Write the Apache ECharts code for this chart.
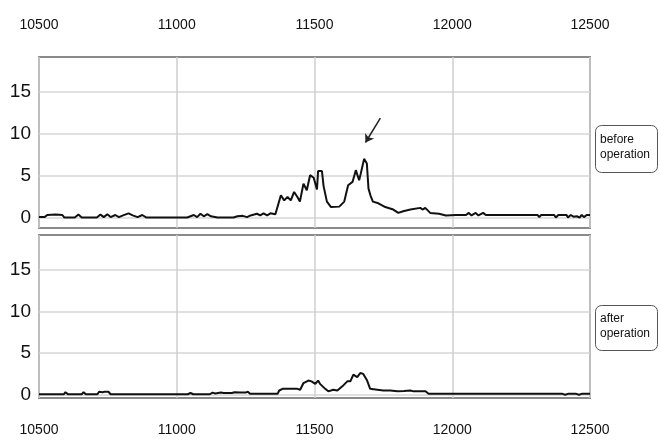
<!DOCTYPE html>
<html>
<head>
<meta charset="utf-8">
<script src="https://cdn.jsdelivr.net/npm/echarts@6/dist/echarts.min.js"></script>
<style>html,body{margin:0;padding:0;background:#fff;}#c{width:660px;height:445px;}</style>
</head>
<body>
<div id="c"></div>
<script>
var xTicks = [10500, 11000, 11500, 12000, 12500];
var yTicks = [0, 5, 10, 15];
var panelLabels = ['before\noperation', 'after\noperation'];

var beforeX = [10500,10520,10530,10560,10585,10592,10630,10643,10655,10710,10723,10735,10748,10760,10777,10790,10805,10825,10840,10858,10875,10890,11038,11050,11062,11074,11086,11098,11111,11124,11148,11206,11220,11240,11255,11268,11291,11303,11315,11328,11340,11358,11365,11378,11390,11402,11414,11426,11438,11447,11460,11472,11484,11491,11497,11509,11513,11527,11533,11545,11560,11590,11608,11622,11638,11650,11662,11668,11680,11690,11696,11703,11712,11732,11757,11786,11804,11822,11848,11884,11892,11902,11920,11952,11977,12013,12050,12060,12070,12085,12095,12112,12122,12310,12316,12322,12370,12376,12385,12415,12420,12430,12440,12452,12462,12470,12478,12488,12500];
var beforeY = [0.1,0.1,0.35,0.4,0.35,0.05,0.05,0.4,0.05,0.05,0.4,0.1,0.45,0.1,0.35,0.1,0.3,0.55,0.3,0.1,0.35,0.05,0.05,0.2,0.35,0.1,0.5,0.2,0.45,0.2,0.05,0.05,0.2,0.25,0.1,0.3,0.5,0.3,0.55,0.3,0.55,0.45,0.5,2.7,2.1,2.5,2.1,3.1,2.5,1.95,4.1,3.3,5.1,5.2,4.8,3.4,5.6,5.6,3.8,1.95,1.3,1.35,1.95,3.9,4.3,5.7,4.5,5.3,7.05,6.5,3.5,2.7,1.95,1.75,1.3,1.0,0.6,0.8,1.0,1.2,1.0,1.2,0.6,0.5,0.3,0.35,0.35,0.6,0.3,0.6,0.3,0.6,0.35,0.35,0.1,0.35,0.35,0.05,0.35,0.35,0.05,0.35,0.15,0.2,0.05,0.35,0.1,0.35,0.35];

var afterX = [10500,10590,10596,10605,10655,10662,10670,10712,10718,10730,10738,10745,10752,10760,10850,10856,10862,11040,11050,11060,11120,11130,11140,11160,11170,11200,11210,11230,11250,11258,11266,11366,11372,11378,11384,11438,11448,11460,11478,11489,11503,11513,11520,11539,11550,11568,11583,11601,11619,11630,11641,11655,11666,11677,11691,11702,11728,11750,11775,11780,11801,11825,11848,11860,11903,11914,12400,12410,12420,12450,12460,12470,12500];
var afterY = [0.05,0.05,0.3,0.05,0.05,0.3,0.05,0.05,0.35,0.3,0.35,0.15,0.35,0.05,0.05,0.2,0.05,0.05,0.2,0.05,0.05,0.25,0.15,0.25,0.2,0.2,0.3,0.25,0.25,0.35,0.1,0.1,0.5,0.4,0.7,0.7,0.6,1.4,1.7,1.6,1.3,1.7,1.3,0.7,0.4,0.6,0.5,1.0,1.6,1.6,2.4,2.1,2.6,2.5,1.7,0.7,0.6,0.5,0.5,0.35,0.4,0.45,0.5,0.4,0.4,0.1,0.1,0.0,0.1,0.1,0.0,0.1,0.1];

var arrowFrom = [11739, 11.9];
var arrowTo = [11685, 9.0];

function pairs(xs, ys) { return xs.map(function (x, i) { return [x, ys[i]]; }); }

var FONT = "'Liberation Sans', Arial, sans-serif";

function xAxis(idx, pos) {
  return {
    type: 'value', gridIndex: idx, position: pos,
    min: xTicks[0], max: xTicks[xTicks.length - 1], interval: 500,
    axisLine: { show: false }, axisTick: { show: false },
    axisLabel: { fontFamily: FONT, fontSize: 14, color: '#111', margin: 25,
      formatter: function (v) { return String(v); } },
    splitLine: { show: true, lineStyle: { color: '#cfcfcf', width: 1.5 } }
  };
}
function yAxis(idx, min, max) {
  return {
    type: 'value', gridIndex: idx, min: min, max: max,
    axisLine: { show: false },
    axisTick: { show: false, customValues: yTicks },
    axisLabel: { customValues: yTicks, fontFamily: FONT, fontSize: 19, color: '#111', margin: 8 },
    splitLine: { show: true, lineStyle: { color: '#d6d6d6', width: 1.5 } }
  };
}

var chart = echarts.init(document.getElementById('c'), null, { renderer: 'canvas' });
chart.setOption({
  backgroundColor: '#fff',
  animation: false,
  grid: [
    { left: 39, top: 57, width: 551, height: 171, show: true, borderColor: '#8a8a8a', borderWidth: 2, backgroundColor: '#fff', containLabel: false },
    { left: 39, top: 235, width: 551, height: 163, show: true, borderColor: '#8a8a8a', borderWidth: 2, backgroundColor: '#fff', containLabel: false }
  ],
  xAxis: [xAxis(0, 'top'), xAxis(1, 'bottom')],
  yAxis: [yAxis(0, -1.2, 19.2), yAxis(1, -0.4, 19.2)],
  series: [
    {
      type: 'line', xAxisIndex: 0, yAxisIndex: 0, data: pairs(beforeX, beforeY),
      showSymbol: false, lineStyle: { color: '#111', width: 2 },
      markLine: {
        silent: true, symbol: ['none', 'arrow'], symbolSize: 8,
        label: { show: false },
        lineStyle: { color: '#222', width: 1.5, type: 'solid' },
        data: [[{ coord: arrowFrom }, { coord: arrowTo }]]
      }
    },
    {
      type: 'line', xAxisIndex: 1, yAxisIndex: 1, data: pairs(afterX, afterY),
      showSymbol: false, lineStyle: { color: '#111', width: 2 }
    }
  ],
  graphic: [
    { type: 'rect', left: 595, top: 125, shape: { width: 62, height: 47, r: 6 }, style: { fill: '#fff', stroke: '#555', lineWidth: 1 } },
    { type: 'text', left: 600, top: 132, style: { text: panelLabels[0], font: "12px " + FONT, fill: '#111', lineHeight: 15 } },
    { type: 'rect', left: 595, top: 305, shape: { width: 62, height: 45, r: 6 }, style: { fill: '#fff', stroke: '#555', lineWidth: 1 } },
    { type: 'text', left: 600, top: 311, style: { text: panelLabels[1], font: "12px " + FONT, fill: '#111', lineHeight: 15 } }
  ]
});
</script>
</body>
</html>
